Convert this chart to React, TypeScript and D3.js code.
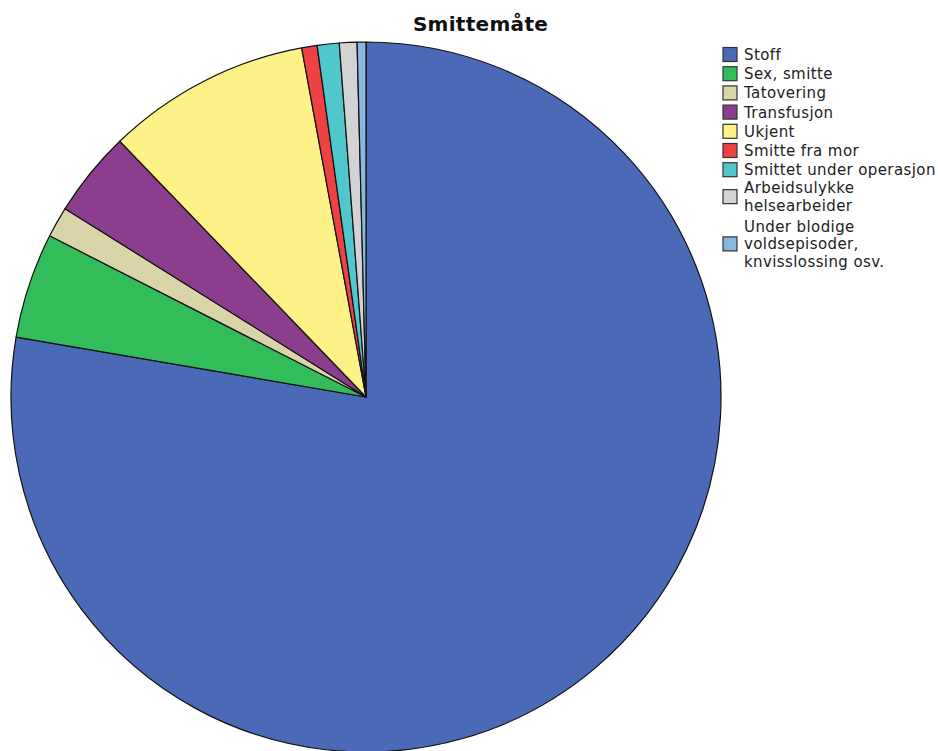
import React from "react";
import * as d3 from "d3";

const categories = [
  "Stoff",
  "Sex, smitte",
  "Tatovering",
  "Transfusjon",
  "Ukjent",
  "Smitte fra mor",
  "Smittet under operasjon",
  "Arbeidsulykke helsearbeider",
  "Under blodige voldsepisoder, knvisslossing osv.",
];
const legendLines = [
  ["Stoff"],
  ["Sex, smitte"],
  ["Tatovering"],
  ["Transfusjon"],
  ["Ukjent"],
  ["Smitte fra mor"],
  ["Smittet under operasjon"],
  ["Arbeidsulykke", "helsearbeider"],
  ["Under blodige", "voldsepisoder,", "knvisslossing osv."],
];
const values = [77.7, 4.8, 1.4, 3.9, 9.3, 0.7, 1.0, 0.8, 0.4];
const colors = [
  "#4a6ab7",
  "#33bd5a",
  "#dad5a8",
  "#8b3e8e",
  "#fcf288",
  "#ee4242",
  "#4fc7cc",
  "#d3d3d3",
  "#88b8de",
];
const title = "Smittemåte";

const W = 938;
const H = 751;
const cx = 366;
const cy = 397;
const R = 355;

export default function App() {
  const pie = d3
    .pie<number>()
    .sort(null)
    .value((d) => d)
    .startAngle(0)
    .endAngle(2 * Math.PI);
  const arcs = pie(values);
  const arcGen = d3.arc<d3.PieArcDatum<number>>().innerRadius(0).outerRadius(R);

  // legend layout
  const lx = 723;
  const tx = 744;
  const lineGap = 17.5;
  const rows: { lines: string[]; baselines: number[]; sq: number }[] = [];
  let y = 60;
  legendLines.forEach((lines) => {
    if (lines.length === 1) {
      rows.push({ lines, baselines: [y], sq: y - 5.5 });
      y += 19.2;
    } else {
      const n = lines.length;
      const first = y - 1;
      const bl = lines.map((_, k) => first + k * lineGap);
      const mid = (bl[0] + bl[n - 1]) / 2 - 5.5;
      rows.push({ lines, baselines: bl, sq: mid });
      y = bl[n - 1] + 22;
    }
  });

  return (
    <svg
      width={W}
      height={H}
      style={{ position: "absolute", left: 0, top: 0, background: "#fff" }}
      fontFamily="'DejaVu Sans', Verdana, sans-serif"
    >
      <text
        x={480.5}
        y={31}
        textAnchor="middle"
        fontSize={20}
        fontWeight="bold"
        letterSpacing={0.3}
        fill="#111"
      >
        {title}
      </text>
      <g transform={`translate(${cx},${cy})`}>
        {arcs.map((a, i) => (
          <path
            key={categories[i]}
            d={arcGen(a) || ""}
            fill={colors[i]}
            stroke="#111"
            strokeWidth={1.2}
            strokeLinejoin="round"
          />
        ))}
      </g>
      <g>
        {rows.map((r, i) => (
          <g key={categories[i]}>
            <rect
              x={lx}
              y={r.sq - 7}
              width={14}
              height={14}
              fill={colors[i]}
              stroke="#333"
              strokeWidth={1.2}
            />
            <text fontSize={15} letterSpacing={0.4} fill="#222">
              {r.lines.map((ln, k) => (
                <tspan key={k} x={tx} y={r.baselines[k]}>
                  {ln}
                </tspan>
              ))}
            </text>
          </g>
        ))}
      </g>
    </svg>
  );
}
